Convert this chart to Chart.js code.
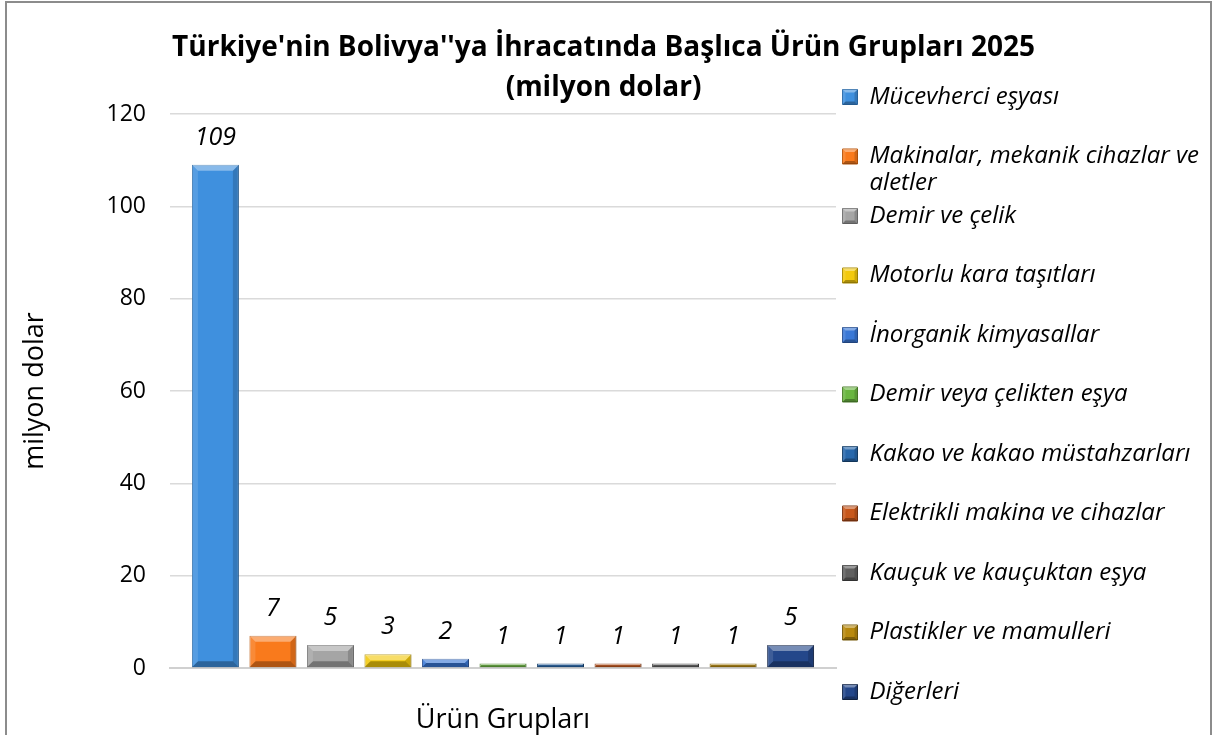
<!DOCTYPE html>
<html>
<head>
<meta charset="utf-8">
<script src="https://cdn.jsdelivr.net/npm/chart.js@4.4.1/dist/chart.umd.min.js"></script>
<style>
  body { margin: 0; background: #fff; }
  #wrap { position: absolute; left: 0; top: 0; width: 1217px; height: 735px; }
  #frame { position: absolute; left: 5px; top: 1px; width: 1207px; height: 760px; border: 2px solid #8c8c8c; box-sizing: border-box; pointer-events: none; }
</style>
</head>
<body>
<div id="wrap"><canvas id="chart"></canvas></div>
<div id="frame"></div>
<script>
const categories = ['Ürün Grupları'];
const productGroups = [
  'Mücevherci eşyası',
  'Makinalar, mekanik cihazlar ve aletler',
  'Demir ve çelik',
  'Motorlu kara taşıtları',
  'İnorganik kimyasallar',
  'Demir veya çelikten eşya',
  'Kakao ve kakao müstahzarları',
  'Elektrikli makina ve cihazlar',
  'Kauçuk ve kauçuktan eşya',
  'Plastikler ve mamulleri',
  'Diğerleri'
];
const exportValues = [109, 7, 5, 3, 2, 1, 1, 1, 1, 1, 5];
const yTicks = [0, 20, 40, 60, 80, 100, 120];
const barColors = ['#3f90de', '#f97a1c', '#a5a5a5', '#f3c90c', '#3a78d6', '#6ab640',
                   '#2868ac', '#c8581c', '#606060', '#b8890e', '#24478a'];
const edgeColors = ['#2a6aa8', '#b8560c', '#6e6e6e', '#a88a00', '#274f92', '#4a7d2a',
                    '#163f69', '#7f3510', '#3a3a3a', '#765a08', '#15284b'];

const legendFont = 24;
const legendLine = 26.5;
const legendPad = 6.5;

// split long legend names into two lines, keep every item two lines high
function wrapLabel(text, maxChars) {
  const words = text.split(' ');
  const lines = [''];
  words.forEach(w => {
    const cur = lines[lines.length - 1];
    if (cur && (cur + ' ' + w).length > maxChars) lines.push(w);
    else lines[lines.length - 1] = cur ? cur + ' ' + w : w;
  });
  while (lines.length < 2) lines.push('');
  return lines;
}

function drawBevel(ctx, l, t, r, b, size) {
  const d = Math.min(size, (r - l) / 2, (b - t) / 2);
  if (d <= 0) return;
  const faces = [
    [[l, t], [r, t], [r - d, t + d], [l + d, t + d], 'rgba(255,255,255,0.38)'],
    [[l, b], [r, b], [r - d, b - d], [l + d, b - d], 'rgba(0,0,0,0.30)'],
    [[l, t], [l + d, t + d], [l + d, b - d], [l, b], 'rgba(255,255,255,0.12)'],
    [[r, t], [r - d, t + d], [r - d, b - d], [r, b], 'rgba(0,0,0,0.16)']
  ];
  faces.forEach(f => {
    ctx.beginPath();
    ctx.moveTo(f[0][0], f[0][1]);
    for (let k = 1; k < 4; k++) ctx.lineTo(f[k][0], f[k][1]);
    ctx.closePath();
    ctx.fillStyle = f[4];
    ctx.fill();
  });
}

const barDecor = {
  id: 'barDecor',
  afterDatasetsDraw(chart) {
    const ctx = chart.ctx;
    ctx.save();
    chart.data.datasets.forEach((ds, i) => {
      chart.getDatasetMeta(i).data.forEach(bar => {
        const p = bar.getProps(['x', 'y', 'base', 'width'], true);
        drawBevel(ctx, p.x - p.width / 2, p.y, p.x + p.width / 2, p.base, 6);
      });
    });
    ctx.font = 'italic 25px "Open Sans"';
    ctx.fillStyle = '#000';
    ctx.textAlign = 'center';
    ctx.textBaseline = 'middle';
    chart.data.datasets.forEach((ds, i) => {
      chart.getDatasetMeta(i).data.forEach((bar, j) => {
        ctx.fillText(ds.data[j], bar.x, bar.y - 27);
      });
    });
    ctx.restore();
  },
  afterDraw(chart) {
    // small bevel on the legend boxes, following the legend's own item stacking
    const lg = chart.legend;
    if (!lg || !lg.legendItems) return;
    const ctx = chart.ctx;
    ctx.save();
    let y = lg.top + lg._computeTitleHeight() + legendPad;
    lg.legendItems.forEach(item => {
      const t = y + (legendFont - 15) / 2;
      drawBevel(ctx, lg.left + legendPad, t, lg.left + legendPad + 15, t + 15, 3);
      y += item.text.length * legendLine + legendPad;
    });
    ctx.restore();
  }
};

Chart.defaults.font.family = '"Open Sans"';
Chart.defaults.color = '#000';

new Chart(document.getElementById('chart'), {
  type: 'bar',
  data: {
    labels: categories,
    datasets: productGroups.map((name, i) => ({
      label: name,
      data: [exportValues[i]],
      backgroundColor: barColors[i],
      borderColor: edgeColors[i],
      borderWidth: 1,
      categoryPercentage: 0.95,
      barPercentage: 0.817
    }))
  },
  options: {
    responsive: true,
    maintainAspectRatio: false,
    animation: false,
    layout: { padding: { left: 8, right: 18, top: 0, bottom: 0 } },
    plugins: {
      title: {
        display: true,
        text: ["Türkiye'nin Bolivya''ya İhracatında Başlıca Ürün Grupları 2025", '(milyon dolar)'],
        font: { size: 28, weight: 'bold', lineHeight: 40 / 28 },
        color: '#000',
        padding: { top: 28, bottom: 6 }
      },
      legend: {
        position: 'right',
        align: 'start',
        maxWidth: 363,
        title: { display: true, text: ' ', padding: 0, font: { size: 10, lineHeight: 7.85 } },
        labels: {
          boxWidth: 15,
          boxHeight: 15,
          padding: legendPad,
          color: '#000',
          font: { size: legendFont, style: 'italic', lineHeight: legendLine / legendFont },
          generateLabels(chart) {
            const items = Chart.defaults.plugins.legend.labels.generateLabels(chart);
            items.forEach(it => { it.text = wrapLabel(it.text, 30); });
            return items;
          }
        }
      },
      tooltip: { enabled: false }
    },
    scales: {
      x: {
        grid: { display: false },
        border: { display: true, color: '#d0d0d0', width: 2 },
        ticks: { padding: 27.8, color: '#000', font: { size: 27, lineHeight: 1.2 } },
        afterFit(scale) { scale.height = 67; }
      },
      y: {
        min: 0,
        max: 120,
        afterBuildTicks(scale) { scale.ticks = yTicks.map(v => ({ value: v })); },
        grid: { color: '#dadada', lineWidth: 1.5, drawTicks: false },
        border: { display: false },
        ticks: { padding: 24, color: '#000', font: { size: 23 } },
        title: {
          display: true,
          text: 'milyon dolar',
          color: '#000',
          font: { size: 27, lineHeight: 1.2 },
          padding: { top: 10.8, bottom: 0 }
        },
        afterFit(scale) { scale.width = 162; }
      }
    }
  },
  plugins: [barDecor]
});
</script>
</body>
</html>
